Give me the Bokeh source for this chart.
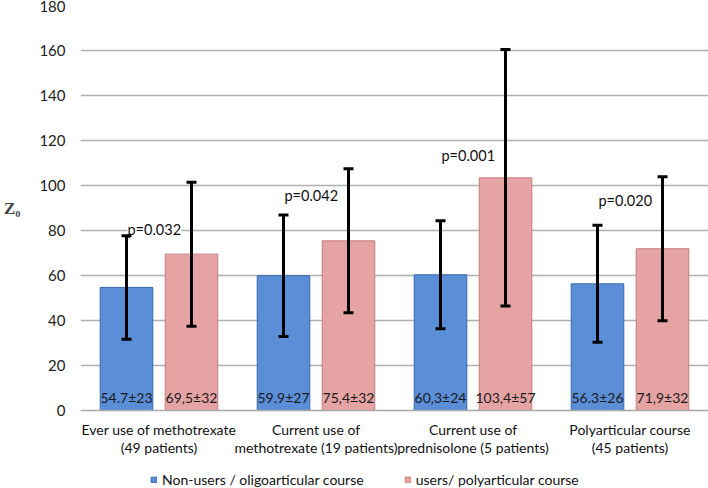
from bokeh.plotting import figure
from bokeh.layouts import column
from bokeh.models import (ColumnDataSource, FactorRange, Range1d, Whisker, TeeHead,
                          Legend, LegendItem, FixedTicker)
from bokeh.transform import dodge
from bokeh.core.properties import value
from bokeh.embed import file_html
from bokeh.resources import INLINE

categories = ["Ever use of methotrexate\n(49 patients)",
              "Current use of\nmethotrexate (19 patients)",
              "Current use of\nprednisolone (5 patients)",
              "Polyarticular course\n(45 patients)"]
nonusers_mean = [54.7, 59.9, 60.3, 56.3]
nonusers_sd = [23, 27, 24, 26]
users_mean = [69.5, 75.4, 103.4, 71.9]
users_sd = [32, 32, 57, 32]
nonusers_labels = ["54.7±23", "59.9±27", "60,3±24", "56.3±26"]
users_labels = ["69,5±32", "75,4±32", "103,4±57", "71,9±32"]
p_values = ["p=0.032", "p=0.042", "p=0.001", "p=0.020"]
p_label_y = [80.5, 95.6, 113.3, 93.3]
y_ticks = [0, 20, 40, 60, 80, 100, 120, 140, 160, 180]
series_names = ["Non-users / oligoarticular course", "users/ polyarticular course"]

FONT = "Lato"
BLUE, BLUE_LINE = "#5a8fd8", "#3868ad"
PINK, PINK_LINE = "#e6a3a3", "#c27e7e"

src = ColumnDataSource(dict(
    cat=categories,
    n_mean=nonusers_mean,
    n_lo=[m - s for m, s in zip(nonusers_mean, nonusers_sd)],
    n_hi=[m + s for m, s in zip(nonusers_mean, nonusers_sd)],
    u_mean=users_mean,
    u_lo=[m - s for m, s in zip(users_mean, users_sd)],
    u_hi=[m + s for m, s in zip(users_mean, users_sd)],
    n_lab=nonusers_labels,
    u_lab=users_labels,
    p=p_values,
    py=p_label_y,
    lab_y=[6] * len(categories),
))

p = figure(width=708, height=466, x_range=FactorRange(*categories),
           y_range=Range1d(0, 180), output_backend="svg", toolbar_location=None,
           min_border_left=80, min_border_right=0, min_border_top=5,
           min_border_bottom=56)
p.outline_line_color = None
p.background_fill_color = "white"

OFF = 0.207
W = 0.335
p.vbar(x=dodge("cat", -OFF, range=p.x_range), top="n_mean", width=W, source=src,
       fill_color=BLUE, line_color=BLUE_LINE, line_width=1)
p.vbar(x=dodge("cat", OFF, range=p.x_range), top="u_mean", width=W, source=src,
       fill_color=PINK, line_color=PINK_LINE, line_width=1)

for off, lo, hi in [(-OFF, "n_lo", "n_hi"), (OFF, "u_lo", "u_hi")]:
    w = Whisker(base=dodge("cat", off, range=p.x_range), lower=lo, upper=hi, source=src,
                line_color="black", line_width=3, level="overlay",
                upper_head=TeeHead(size=10, line_width=3, line_color="black"),
                lower_head=TeeHead(size=10, line_width=3, line_color="black"))
    p.add_layout(w)

for off, col in [(-OFF, "n_lab"), (OFF, "u_lab")]:
    p.text(x=dodge("cat", off, range=p.x_range), y="lab_y", text=col, source=src,
           text_font=value(FONT), text_font_size="14px", text_color="#1a1a1a",
           text_align="center", text_baseline="middle")

p.text(x=dodge("cat", -0.03, range=p.x_range), y="py", text="p", source=src,
       text_font=value(FONT), text_font_size="14.5px", text_color="#111111",
       text_align="center", text_baseline="middle", background_fill_color="white")

# axes
p.yaxis.ticker = FixedTicker(ticks=y_ticks)
p.yaxis.axis_line_color = None
p.yaxis.major_tick_line_color = None
p.yaxis.minor_tick_line_color = None
p.yaxis.major_tick_out = 0
p.yaxis.major_tick_in = 0
p.yaxis.minor_tick_out = 0
p.yaxis.major_label_standoff = 15
p.yaxis.major_label_text_font = FONT
p.yaxis.major_label_text_font_size = "15px"
p.yaxis.major_label_text_color = "#222222"
p.yaxis.axis_label = "Z\u2080"
p.yaxis.axis_label_orientation = "horizontal"
p.yaxis.axis_label_text_font = "Liberation Serif"
p.yaxis.axis_label_text_font_style = "bold"
p.yaxis.axis_label_text_font_size = "17px"
p.yaxis.axis_label_standoff = 16

p.xaxis.axis_line_color = "#a8a8a8"
p.xaxis.axis_line_width = 1.5
p.xaxis.major_tick_line_color = None
p.xaxis.minor_tick_line_color = None
p.xaxis.major_label_standoff = 4
p.xaxis.major_label_text_font = FONT
p.xaxis.major_label_text_font_size = "14px"
p.xaxis.major_label_text_line_height = 1.1
p.xaxis.major_label_text_color = "#111111"

p.xgrid.grid_line_color = None
p.ygrid.grid_line_color = "#b0b0b0"
p.ygrid.grid_line_width = 1.5

# legend strip below the chart (proxy renderers sit outside the visible range)
lg = figure(width=708, height=22, x_range=Range1d(0, 1), y_range=Range1d(0, 1),
            x_axis_type=None, y_axis_type=None,
            output_backend="svg", toolbar_location=None, min_border=0)
lg.grid.grid_line_color = None
lg.outline_line_color = None
r1 = lg.vbar(x=[0.5], top=[-5], bottom=[-6], width=0.1, fill_color=BLUE, line_color=BLUE_LINE)
r2 = lg.vbar(x=[0.5], top=[-5], bottom=[-6], width=0.1, fill_color=PINK, line_color=PINK_LINE)
legend = Legend(items=[LegendItem(label=series_names[0], renderers=[r1]),
                       LegendItem(label=series_names[1], renderers=[r2])],
                orientation="horizontal", location=(70, 0),
                label_text_font=FONT, label_text_font_size="14px",
                label_text_color="#111111", glyph_width=7, glyph_height=7,
                label_standoff=5, spacing=40, label_height=14,
                padding=0, margin=0,
                border_line_color=None, background_fill_alpha=0)
lg.add_layout(legend, "center")

open("out.html", "w").write(file_html(column(p, lg, spacing=0), INLINE))
